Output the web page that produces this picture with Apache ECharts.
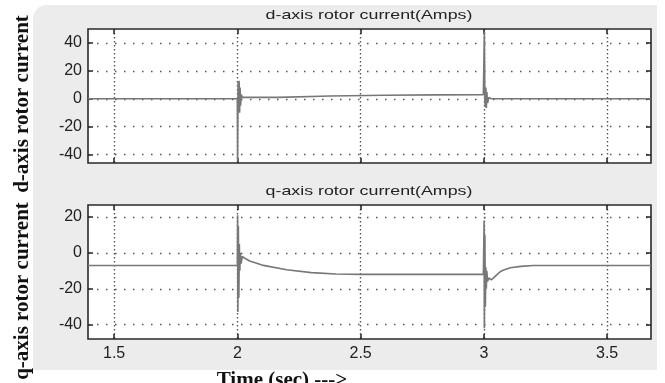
<!DOCTYPE html>
<html><head><meta charset="utf-8">
<script src="https://cdn.jsdelivr.net/npm/echarts@6/dist/echarts.min.js"></script>
<style>html,body{margin:0;padding:0;background:#fff}#c{width:665px;height:383px}</style>
</head><body><div id="c"></div>
<script>
// ---- data ----
const tD = [1.394, 2.0, 2.001, 2.003, 2.005, 2.007, 2.009, 2.011, 2.013, 2.016, 2.02, 2.1, 2.165, 2.17, 2.376, 2.38, 2.6, 2.8, 2.998, 3.0, 3.002, 3.004, 3.006, 3.008, 3.01, 3.012, 3.015, 3.02, 3.03, 3.678];
const dAmps = [0, 0, -45, 12, -8, 13, -10, 8, -5, 3, 1, 1, 1, 2, 2, 2.5, 2.5, 2.8, 3, 3, 48, -2, -6, 8, -6.5, 5, -3, 1, 0, 0];
const tQ = [1.394, 2.0, 2.001, 2.002, 2.004, 2.006, 2.008, 2.01, 2.012, 2.015, 2.02, 2.03, 2.05, 2.1, 2.2, 2.3, 2.4, 2.5, 2.998, 3.0, 3.001, 3.002, 3.004, 3.006, 3.008, 3.01, 3.012, 3.015, 3.02, 3.03, 3.05, 3.066, 3.08, 3.107, 3.15, 3.2, 3.678];
const qAmps = [-7, -7, 21, -33, 15, -25, 5, -10, 0, -6, -2, -3, -4.5, -6.8, -9.4, -11, -11.8, -12, -12, -12, 18, -42, 10, -30, -8, -20, -10, -16, -14, -15, -12.5, -10.5, -9.5, -8.3, -7.5, -7, -7];
const xTicks = [1.5, 2, 2.5, 3, 3.5];
const dTicks = [-40, -20, 0, 20, 40];
const qTicks = [-40, -20, 0, 20];
const xRange = [1.394, 3.678];
const dRange = [-46, 50];
const qRange = [-48, 26.7];
const titles = ['d-axis rotor current(Amps)', 'q-axis rotor current(Amps)'];
const yNames = ['d-axis rotor current', 'q-axis rotor current'];
const xName = 'Time (sec) --->';

const chart = echarts.init(document.getElementById('c'), null, {renderer: 'canvas'});
const grids = [
  {left: 88, top: 29, width: 563, height: 134},
  {left: 88, top: 205, width: 563, height: 134}
];
const tickStyle = {color: '#222', width: 1.5};
function xAx(gi, pos, labels, grid) {
  return {
    type: 'value', gridIndex: gi, position: pos, min: xRange[0], max: xRange[1],
    axisLine: {show: false, onZero: false},
    axisTick: {show: true, inside: true, length: 5, lineStyle: tickStyle, customValues: xTicks},
    axisLabel: {show: labels, customValues: xTicks, color: '#222', fontFamily: 'Liberation Sans', fontSize: 16, margin: 7},
    splitLine: {show: grid, lineStyle: {color: '#555', width: 1.4, type: [1.5, 2.5]}}
  };
}
function yAx(gi, pos, rng, ticks, labels) {
  return {
    type: 'value', gridIndex: gi, position: pos, min: rng[0], max: rng[1],
    axisLine: {show: false, onZero: false},
    axisTick: {show: true, inside: true, length: 5, lineStyle: tickStyle, customValues: ticks},
    axisLabel: {show: labels, customValues: ticks, color: '#222', fontFamily: 'Liberation Sans', fontSize: 16, margin: 6},
    splitLine: {show: labels, lineStyle: {color: '#555', width: 1.4, type: [1.5, 7.5]}}
  };
}
const option = {
  animation: false,
  backgroundColor: '#fff',
  graphic: [
    {type: 'rect', z: -10, shape: {x: 33, y: 5, width: 624, height: 365, r: [14, 0, 0, 0]}, style: {fill: '#ececec'}},
    {type: 'text', x: 369, y: 15, scaleX: 1.37, style: {text: titles[0], font: '13px "Liberation Sans"', fill: '#222', align: 'center', verticalAlign: 'middle'}},
    {type: 'text', x: 369, y: 191, scaleX: 1.37, style: {text: titles[1], font: '13px "Liberation Sans"', fill: '#222', align: 'center', verticalAlign: 'middle'}},
    {type: 'text', x: 23, y: 104, rotation: Math.PI / 2, style: {text: yNames[0], font: 'bold 21px "Liberation Serif"', fill: '#111', align: 'center', verticalAlign: 'middle'}},
    {type: 'text', x: 23, y: 291, rotation: Math.PI / 2, style: {text: yNames[1], font: 'bold 21px "Liberation Serif"', fill: '#111', align: 'center', verticalAlign: 'middle'}},
    {type: 'text', x: 282, y: 370, style: {text: xName, font: 'bold 21px "Liberation Serif"', fill: '#111', align: 'center', verticalAlign: 'top'}}
  ],
  grid: grids.map(g => Object.assign({show: true, backgroundColor: '#fff', borderColor: '#2a2a2a', borderWidth: 1.6}, g)),
  xAxis: [xAx(0, 'bottom', false, true), xAx(1, 'bottom', true, true), xAx(0, 'top', false, false), xAx(1, 'top', false, false)],
  yAxis: [yAx(0, 'left', dRange, dTicks, true), yAx(1, 'left', qRange, qTicks, true), yAx(0, 'right', dRange, dTicks, false), yAx(1, 'right', qRange, qTicks, false)],
  series: [
    {type: 'line', xAxisIndex: 0, yAxisIndex: 0, showSymbol: false, symbol: 'none', lineStyle: {color: '#777', width: 1.6}, data: tD.map((t, i) => [t, dAmps[i]])},
    {type: 'line', xAxisIndex: 1, yAxisIndex: 1, showSymbol: false, symbol: 'none', lineStyle: {color: '#777', width: 1.6}, data: tQ.map((t, i) => [t, qAmps[i]])}
  ]
};
chart.setOption(option);
</script></body></html>
